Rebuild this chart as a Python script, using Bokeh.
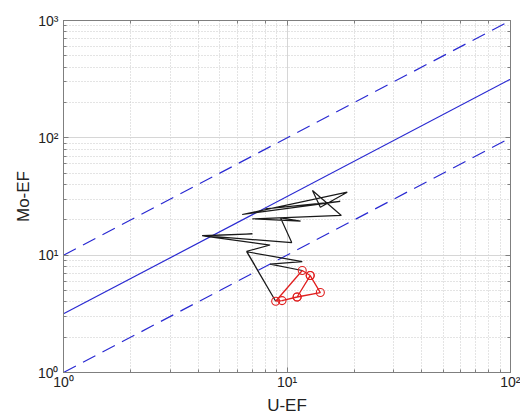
from bokeh.plotting import figure
from bokeh.models import Range1d, LogAxis, CustomJSTickFormatter
from bokeh.embed import file_html
from bokeh.resources import INLINE

# reference lines y = k * x
ref_x = [1, 100]
k_upper = 10.0
k_mid = 3.1623
k_lower = 1.0

# black trajectory
black_x = [8.0, 17.3, 6.3, 18.6, 14.1, 13.0, 17.5, 7.0, 11.5, 9.35, 10.5, 4.17,
           7.0, 4.2, 8.4, 6.6, 8.9, 6.6, 11.7, 8.4, 11.7]
black_y = [24.8, 28.7, 22.2, 34.4, 25.6, 35.6, 21.8, 20.4, 19.5, 20.8, 12.8, 14.7,
           15.2, 14.6, 12.2, 10.8, 4.05, 10.7, 8.8, 8.4, 7.4]

# red trajectory (with circles)
red_x = [12.7, 11.7, 8.9, 9.5, 11.1, 14.1, 12.7, 11.1]
red_y = [6.7, 7.4, 4.05, 4.1, 4.4, 4.8, 6.7, 4.4]

FONT = "Liberation Sans"
AXIS_COL = "#7f7f7f"

p = figure(x_axis_type="log", y_axis_type="log",
           x_range=Range1d(1, 100), y_range=Range1d(1, 1000),
           frame_width=447, frame_height=352,
           min_border_left=63, min_border_top=20, min_border_right=10, min_border_bottom=40,
           output_backend="svg", toolbar_location=None,
           x_axis_label="U-EF", y_axis_label="Mo-EF")

sup_code = """
const e = Math.round(Math.log10(tick));
const sup = {'0':'\u2070','1':'\u00b9','2':'\u00b2','3':'\u00b3','4':'\u2074','-':'\u207b'};
return '10' + String(e).split('').map(c => sup[c]).join('');
"""
fmt = CustomJSTickFormatter(code=sup_code)

for ax in (p.xaxis[0], p.yaxis[0]):
    ax.formatter = fmt
    ax.axis_line_color = AXIS_COL
    ax.major_tick_line_color = AXIS_COL
    ax.minor_tick_line_color = AXIS_COL
    ax.major_tick_in = 5
    ax.major_tick_out = 0
    ax.minor_tick_in = 3
    ax.minor_tick_out = 0
    ax.major_label_text_font = FONT
    ax.major_label_text_font_size = "14px"
    ax.major_label_text_color = "#222222"
    ax.axis_label_text_font = FONT
    ax.axis_label_text_font_size = "17px"
    ax.axis_label_text_font_style = "normal"
    ax.axis_label_text_color = "#222222"

p.xaxis[0].major_label_standoff = 1
p.xaxis[0].axis_label_standoff = 3
p.yaxis[0].major_label_standoff = 5
p.yaxis[0].axis_label_standoff = 2

blank = CustomJSTickFormatter(code="return '';")
for loc in ("right", "above"):
    a = LogAxis(formatter=blank, axis_line_color=AXIS_COL,
                major_tick_line_color=AXIS_COL, minor_tick_line_color=AXIS_COL,
                major_tick_in=5, major_tick_out=0, minor_tick_in=3, minor_tick_out=0,
                major_label_standoff=0, major_label_text_font_size="1px")
    p.add_layout(a, loc)

p.outline_line_color = AXIS_COL

for g in (p.xgrid[0], p.ygrid[0]):
    g.grid_line_color = "#d6d6d6"
    g.minor_grid_line_color = "#c8c8c8"
    g.minor_grid_line_dash = "1 2"

BLUE = "#2a2ad2"
p.line(ref_x, [k_upper * v for v in ref_x], line_color=BLUE, line_width=1.2, line_dash="14 8")
p.line(ref_x, [k_mid * v for v in ref_x], line_color=BLUE, line_width=1.2)
p.line(ref_x, [k_lower * v for v in ref_x], line_color=BLUE, line_width=1.2, line_dash="14 8")

p.line(black_x, black_y, line_color="#1a1a1a", line_width=1.2)
p.line(red_x, red_y, line_color="#e02020", line_width=1.3)
p.scatter(red_x, red_y, marker="circle", size=8, fill_color=None,
          line_color="#e02020", line_width=1.1)

open("out.html", "w").write(file_html(p, INLINE))
